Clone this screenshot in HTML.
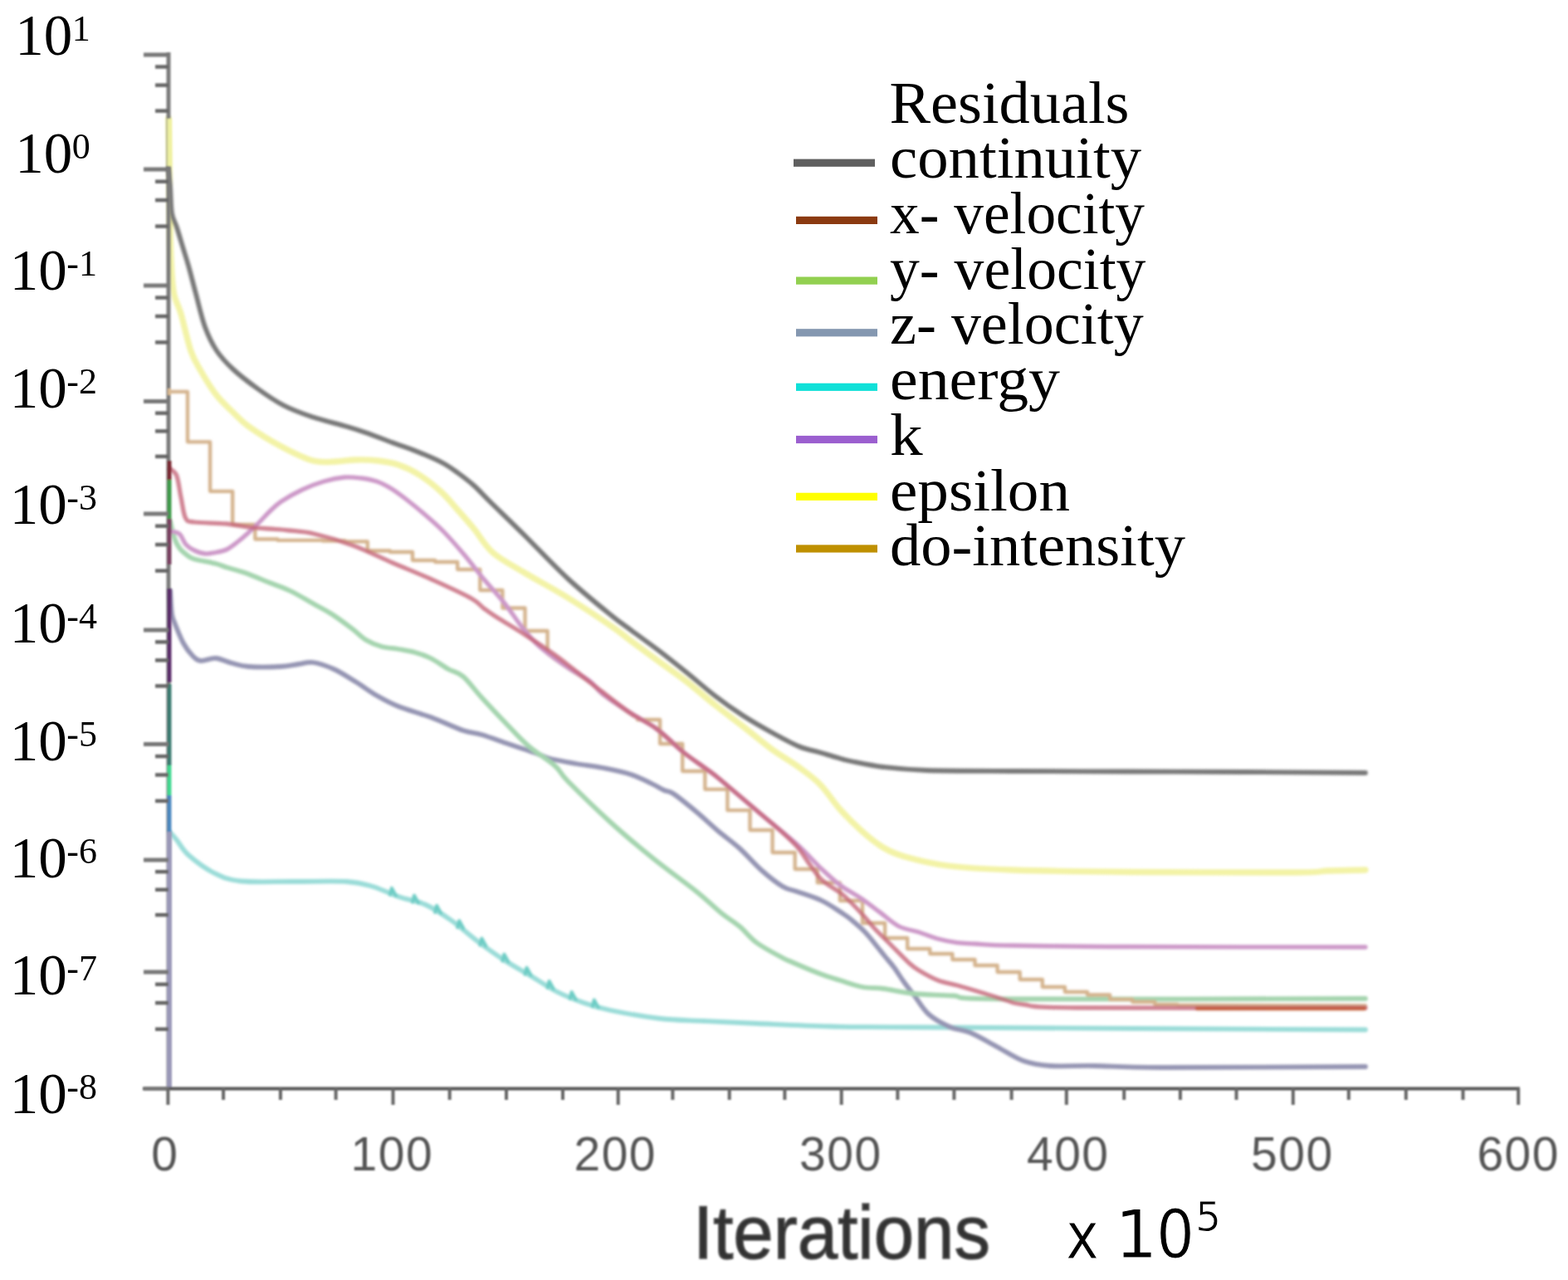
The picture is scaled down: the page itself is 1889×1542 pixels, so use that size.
<!DOCTYPE html>
<html><head><meta charset="utf-8"><title>Residuals</title>
<style>
html,body{margin:0;padding:0;background:#fff;overflow:hidden;}
svg{display:block;}
.ser{font-family:"Liberation Serif","DejaVu Serif",serif;fill:#000;}
.san{font-family:"Liberation Sans","DejaVu Sans",sans-serif;}
.dv{font-family:"DejaVu Sans","Liberation Sans",sans-serif;}
</style></head><body>
<svg width="1889" height="1542" viewBox="0 0 1889 1542">
<defs><filter id="bl" x="-5%" y="-5%" width="110%" height="110%"><feGaussianBlur stdDeviation="0.9"/></filter><filter id="bl3" x="-5%" y="-5%" width="110%" height="110%"><feGaussianBlur stdDeviation="1.4"/></filter><filter id="bl2" x="-5%" y="-5%" width="110%" height="110%"><feGaussianBlur stdDeviation="2.2"/></filter></defs>
<rect width="1889" height="1542" fill="#fff"/>
<g filter="url(#bl3)"><path d="M203.0,143.0 C203.2,152.5 203.7,177.2 204.0,200.0 C204.3,222.8 204.5,258.3 205.0,280.0 C205.5,301.7 206.2,317.3 207.0,330.0 C207.8,342.7 208.2,348.0 210.0,356.0 C211.8,364.0 214.7,366.8 218.0,378.0 C221.3,389.2 226.0,411.5 230.0,423.0 C234.0,434.5 237.0,438.3 242.0,447.0 C247.0,455.7 254.0,467.2 260.0,475.0 C266.0,482.8 271.3,487.5 278.0,494.0 C284.7,500.5 289.8,506.7 300.0,514.0 C310.2,521.3 326.2,531.2 339.0,538.0 C351.8,544.8 366.0,552.0 377.0,555.0 C388.0,558.0 396.5,556.2 405.0,556.0 C413.5,555.8 419.7,554.2 428.0,554.0 C436.3,553.8 446.3,554.0 455.0,555.0 C463.7,556.0 471.7,557.2 480.0,560.0 C488.3,562.8 496.3,566.5 505.0,572.0 C513.7,577.5 524.2,585.8 532.0,593.0 C539.8,600.2 545.5,607.7 552.0,615.0 C558.5,622.3 564.0,628.5 571.0,637.0 C578.0,645.5 583.8,657.2 594.0,666.0 C604.2,674.8 617.0,681.0 632.0,690.0 C647.0,699.0 666.7,709.3 684.0,720.0 C701.3,730.7 723.3,745.3 736.0,754.0 C748.7,762.7 750.3,764.8 760.0,772.0 C769.7,779.2 782.8,788.8 794.0,797.0 C805.2,805.2 815.8,812.3 827.0,821.0 C838.2,829.7 849.7,840.0 861.0,849.0 C872.3,858.0 883.7,866.2 895.0,875.0 C906.3,883.8 917.8,893.8 929.0,902.0 C940.2,910.2 952.2,916.8 962.0,924.0 C971.8,931.2 979.7,936.5 988.0,945.0 C996.3,953.5 1003.7,965.7 1012.0,975.0 C1020.3,984.3 1029.3,993.3 1038.0,1001.0 C1046.7,1008.7 1055.3,1015.8 1064.0,1021.0 C1072.7,1026.2 1077.0,1028.3 1090.0,1032.0 C1103.0,1035.7 1120.5,1040.3 1142.0,1043.0 C1163.5,1045.7 1182.7,1046.8 1219.0,1048.0 C1255.3,1049.2 1303.2,1050.0 1360.0,1050.5 C1416.8,1051.0 1520.0,1051.2 1560.0,1051.0 C1600.0,1050.8 1585.8,1049.5 1600.0,1049.0 C1614.2,1048.5 1637.5,1048.2 1645.0,1048.0" fill="none" stroke="#f3f3a6" stroke-width="7.3" stroke-linejoin="round" stroke-linecap="round" />
<path d="M205.0,1003.0 C206.3,1004.5 209.3,1007.5 213.0,1012.0 C216.7,1016.5 219.4,1023.3 227.0,1030.0 C234.6,1036.7 248.0,1046.8 258.5,1052.0 C269.0,1057.2 274.1,1059.8 290.0,1061.5 C305.9,1063.2 332.8,1061.9 354.0,1062.0 C375.2,1062.1 401.2,1061.0 417.0,1062.0 C432.8,1063.0 438.3,1064.9 449.0,1068.0 C459.7,1071.1 470.3,1076.8 481.0,1080.5 C491.7,1084.2 502.5,1085.2 513.0,1090.0 C523.5,1094.8 533.5,1101.6 544.0,1109.0 C554.5,1116.4 565.3,1126.5 576.0,1134.5 C586.7,1142.5 597.3,1150.1 608.0,1157.0 C618.7,1163.9 629.4,1169.7 640.0,1176.0 C650.6,1182.3 661.0,1189.7 671.5,1195.0 C682.0,1200.3 692.4,1204.3 703.0,1208.0 C713.6,1211.7 719.7,1213.8 735.0,1217.0 C750.3,1220.2 776.2,1224.8 795.0,1227.0 C813.8,1229.2 828.5,1229.0 848.0,1230.0 C867.5,1231.0 886.7,1231.9 912.0,1233.0 C937.3,1234.1 968.7,1235.8 1000.0,1236.5 C1031.3,1237.2 992.5,1236.8 1100.0,1237.5 C1207.5,1238.2 1554.2,1240.0 1645.0,1240.5" fill="none" stroke="#9adcd8" stroke-width="5.8" stroke-linejoin="round" stroke-linecap="round" />
<path d="M469.9,1077.9 L471.9,1069.9 L476.9,1078.9 M497.0,1086.8 L499.0,1078.8 L504.0,1087.8 M524.1,1099.0 L526.1,1091.0 L531.1,1100.0 M551.2,1117.3 L553.2,1109.3 L558.2,1118.3 M578.3,1138.5 L580.3,1130.5 L585.3,1139.5 M605.4,1157.6 L607.4,1149.6 L612.4,1158.6 M632.5,1173.7 L634.5,1165.7 L639.5,1174.7 M659.6,1190.0 L661.6,1182.0 L666.6,1191.0 M686.7,1203.1 L688.7,1195.1 L693.7,1204.1 M713.8,1212.6 L715.8,1204.6 L720.8,1213.6" fill="none" stroke="#6cccc4" stroke-width="4" stroke-linejoin="round" stroke-linecap="round" />
<path d="M205.0,712.0 C205.3,716.7 206.0,733.3 207.0,740.0 C208.0,746.7 208.7,746.2 211.0,752.0 C213.3,757.8 217.5,768.7 221.0,775.0 C224.5,781.3 228.5,786.5 232.0,790.0 C235.5,793.5 237.3,795.5 242.0,796.0 C246.7,796.5 253.7,792.5 260.0,793.0 C266.3,793.5 273.5,797.3 280.0,799.0 C286.5,800.7 289.3,802.3 299.0,803.0 C308.7,803.7 327.8,803.5 338.0,803.0 C348.2,802.5 353.5,800.8 360.0,800.0 C366.5,799.2 370.0,797.0 377.0,798.0 C384.0,799.0 393.5,802.2 402.0,806.0 C410.5,809.8 419.3,815.7 428.0,821.0 C436.7,826.3 445.3,833.0 454.0,838.0 C462.7,843.0 469.2,846.7 480.0,851.0 C490.8,855.3 506.0,859.2 519.0,864.0 C532.0,868.8 547.8,876.5 558.0,880.0 C568.2,883.5 571.0,882.3 580.0,885.0 C589.0,887.7 601.2,892.3 612.0,896.0 C622.8,899.7 636.8,904.1 645.0,907.0 C653.2,909.9 652.8,911.3 661.0,913.5 C669.2,915.7 683.2,918.1 694.0,920.0 C704.8,921.9 715.0,922.8 726.0,925.0 C737.0,927.2 750.2,929.8 760.0,933.0 C769.8,936.2 778.3,940.8 785.0,944.0 C791.7,947.2 795.7,950.0 800.0,952.0 C804.3,954.0 804.5,951.7 811.0,956.0 C817.5,960.3 830.0,970.5 839.0,978.0 C848.0,985.5 856.3,993.7 865.0,1001.0 C873.7,1008.3 882.3,1014.2 891.0,1022.0 C899.7,1029.8 908.3,1040.3 917.0,1048.0 C925.7,1055.7 935.8,1063.7 943.0,1068.0 C950.2,1072.3 952.2,1071.2 960.0,1074.0 C967.8,1076.8 981.2,1080.8 990.0,1085.0 C998.8,1089.2 1007.2,1095.2 1013.0,1099.0 C1018.8,1102.8 1020.2,1103.5 1025.0,1107.5 C1029.8,1111.5 1037.2,1117.8 1042.0,1122.7 C1046.8,1127.6 1050.0,1132.1 1054.0,1137.0 C1058.0,1141.9 1062.1,1147.2 1066.0,1152.0 C1069.9,1156.8 1073.7,1160.8 1077.5,1166.0 C1081.3,1171.2 1084.9,1177.3 1089.0,1183.0 C1093.1,1188.7 1097.0,1193.5 1102.0,1200.0 C1107.0,1206.5 1112.0,1215.8 1119.0,1222.0 C1126.0,1228.2 1135.7,1233.3 1144.0,1237.0 C1152.3,1240.7 1159.5,1240.0 1169.0,1244.0 C1178.5,1248.0 1190.3,1255.3 1201.0,1261.0 C1211.7,1266.7 1222.3,1274.2 1233.0,1278.0 C1243.7,1281.8 1250.8,1283.0 1265.0,1284.0 C1279.2,1285.0 1295.5,1283.7 1318.0,1284.0 C1340.5,1284.3 1345.5,1285.8 1400.0,1286.0 C1454.5,1286.2 1604.2,1285.2 1645.0,1285.0" fill="none" stroke="#9494b2" stroke-width="5.8" stroke-linejoin="round" stroke-linecap="round" />
<path d="M205.0,628.0 C205.8,631.3 208.2,642.7 210.0,648.0 C211.8,653.3 213.5,656.6 216.0,660.0 C218.5,663.4 222.0,666.2 225.0,668.5 C228.0,670.8 228.2,671.8 234.0,673.5 C239.8,675.2 253.5,677.3 260.0,679.0 C266.5,680.7 267.2,681.7 273.0,683.5 C278.8,685.3 286.3,686.9 295.0,690.0 C303.7,693.1 315.8,698.3 325.0,702.0 C334.2,705.7 341.3,707.8 350.0,712.0 C358.7,716.2 368.7,722.3 377.0,727.0 C385.3,731.7 392.0,734.8 400.0,740.0 C408.0,745.2 418.2,752.8 425.0,758.0 C431.8,763.2 435.2,767.5 441.0,771.0 C446.8,774.5 453.5,777.2 460.0,779.0 C466.5,780.8 473.3,780.8 480.0,782.0 C486.7,783.2 493.5,784.2 500.0,786.0 C506.5,787.8 512.3,789.7 519.0,793.0 C525.7,796.3 533.5,802.3 540.0,806.0 C546.5,809.7 551.3,809.3 558.0,815.0 C564.7,820.7 571.0,830.2 580.0,840.0 C589.0,849.8 602.5,864.2 612.0,874.0 C621.5,883.8 627.5,890.8 637.0,899.0 C646.5,907.2 661.2,916.0 669.0,923.0 C676.8,930.0 672.8,929.7 684.0,941.0 C695.2,952.3 718.7,975.3 736.0,991.0 C753.3,1006.7 770.8,1021.2 788.0,1035.0 C805.2,1048.8 825.5,1063.2 839.0,1074.0 C852.5,1084.8 860.3,1093.0 869.0,1100.0 C877.7,1107.0 883.8,1110.0 891.0,1116.0 C898.2,1122.0 903.3,1129.7 912.0,1136.0 C920.7,1142.3 936.0,1150.2 943.0,1154.0 C950.0,1157.8 947.8,1156.3 954.0,1159.0 C960.2,1161.7 973.0,1167.2 980.0,1170.0 C987.0,1172.8 990.7,1174.2 996.0,1176.0 C1001.3,1177.8 1004.8,1178.8 1012.0,1181.0 C1019.2,1183.2 1030.3,1187.3 1039.0,1189.0 C1047.7,1190.7 1053.8,1189.7 1064.0,1191.0 C1074.2,1192.3 1086.0,1195.6 1100.0,1197.0 C1114.0,1198.4 1129.3,1198.4 1148.0,1199.5 C1166.7,1200.6 1129.2,1202.9 1212.0,1203.5 C1294.8,1204.1 1572.8,1203.1 1645.0,1203.0" fill="none" stroke="#a4d4ae" stroke-width="5.8" stroke-linejoin="round" stroke-linecap="round" />
<path d="M205.0,471.9 L205.0,471.9 L226.0,471.9 L226.0,532.3 L253.1,532.3 L253.1,591.8 L280.2,591.8 L280.2,632.0 L307.3,632.0 L307.3,649.5 L334.4,649.5 L334.4,650.8 L361.5,650.8 L361.5,650.8 L388.6,650.8 L388.6,651.5 L415.7,651.5 L415.7,652.4 L442.8,652.4 L442.8,663.5 L469.9,663.5 L469.9,665.0 L497.0,665.0 L497.0,675.0 L524.1,675.0 L524.1,677.0 L551.2,677.0 L551.2,686.0 L578.3,686.0 L578.3,711.0 L605.4,711.0 L605.4,732.5 L632.5,732.5 L632.5,760.0 L659.6,760.0 L659.6,787.2 L663.6,790.3 L667.6,793.4 L671.6,796.2 L675.6,799.0 L679.6,801.8 L683.6,804.6 L686.7,806.8 L686.7,806.8 L690.7,809.3 L694.7,811.8 L698.7,814.3 L702.7,816.8 L706.7,819.3 L710.7,821.8 L713.8,824.8 L713.8,824.8 L717.8,828.8 L721.8,832.8 L725.8,836.8 L729.8,839.6 L733.8,842.4 L737.8,845.1 L740.9,847.2 L740.9,847.2 L744.9,850.0 L748.9,852.7 L752.9,855.5 L756.9,858.2 L760.9,860.8 L764.9,863.2 L768.0,865.1 L768.0,867.0 L795.1,867.0 L795.1,896.0 L822.2,896.0 L822.2,929.0 L849.3,929.0 L849.3,950.8 L876.4,950.8 L876.4,976.2 L903.5,976.2 L903.5,1000.0 L930.6,1000.0 L930.6,1027.0 L957.7,1027.0 L957.7,1047.0 L984.8,1047.0 L984.8,1063.4 L1011.9,1063.4 L1011.9,1085.0 L1039.0,1085.0 L1039.0,1112.0 L1066.1,1112.0 L1066.1,1130.0 L1093.2,1130.0 L1093.2,1143.0 L1120.3,1143.0 L1120.3,1149.0 L1147.4,1149.0 L1147.4,1156.0 L1174.5,1156.0 L1174.5,1163.0 L1201.6,1163.0 L1201.6,1171.0 L1228.7,1171.0 L1228.7,1180.0 L1255.8,1180.0 L1255.8,1189.0 L1282.9,1189.0 L1282.9,1195.0 L1310.0,1195.0 L1310.0,1198.5 L1337.1,1198.5 L1337.1,1204.0 L1364.2,1204.0 L1364.2,1207.0 L1391.3,1207.0 L1391.3,1210.0 L1418.4,1210.0 L1418.4,1211.0 L1445.5,1211.0 L1645.0,1211.5" fill="none" stroke="#d4b28c" stroke-width="4.3" stroke-linejoin="round" stroke-linecap="round" stroke-linecap="butt"/>
<path d="M205.0,640.0 C206.8,640.5 212.8,640.3 216.0,643.0 C219.2,645.7 221.0,652.7 224.0,656.0 C227.0,659.3 230.2,661.2 234.0,663.0 C237.8,664.8 242.7,666.6 247.0,667.0 C251.3,667.4 255.7,666.3 260.0,665.5 C264.3,664.7 268.7,664.1 273.0,662.0 C277.3,659.9 281.7,656.3 286.0,653.0 C290.3,649.7 294.6,646.0 299.0,642.0 C303.4,638.0 308.2,633.3 312.5,629.0 C316.8,624.7 320.6,620.2 325.0,616.0 C329.4,611.8 332.5,608.3 339.0,604.0 C345.5,599.7 355.5,594.0 364.0,590.0 C372.5,586.0 381.5,582.5 390.0,580.0 C398.5,577.5 407.5,575.7 415.0,575.0 C422.5,574.3 428.5,575.2 435.0,576.0 C441.5,576.8 447.8,577.8 454.0,580.0 C460.2,582.2 466.0,585.3 472.0,589.0 C478.0,592.7 483.3,596.8 490.0,602.0 C496.7,607.2 504.7,613.7 512.0,620.0 C519.3,626.3 526.2,632.0 534.0,640.0 C541.8,648.0 550.7,658.2 559.0,668.0 C567.3,677.8 575.8,689.2 584.0,699.0 C592.2,708.8 600.3,717.3 608.0,727.0 C615.7,736.7 623.3,748.7 630.0,757.0 C636.7,765.3 641.8,771.2 648.0,777.0 C654.2,782.8 660.5,787.2 667.0,792.0 C673.5,796.8 679.7,801.2 687.0,806.0 C694.3,810.8 704.5,816.0 711.0,821.0 C717.5,826.0 718.2,829.8 726.0,836.0 C733.8,842.2 747.2,851.0 758.0,858.0 C768.8,865.0 780.2,870.0 791.0,878.0 C801.8,886.0 813.3,898.2 823.0,906.0 C832.7,913.8 842.0,919.8 849.0,925.0 C856.0,930.2 853.7,927.7 865.0,937.0 C876.3,946.3 901.2,967.7 917.0,981.0 C932.8,994.3 947.8,1006.0 960.0,1017.0 C972.2,1028.0 981.2,1038.7 990.0,1047.0 C998.8,1055.3 1005.2,1061.2 1013.0,1067.0 C1020.8,1072.8 1029.2,1076.7 1037.0,1082.0 C1044.8,1087.3 1052.3,1093.3 1060.0,1099.0 C1067.7,1104.7 1075.2,1112.0 1083.0,1116.0 C1090.8,1120.0 1099.2,1120.5 1107.0,1123.0 C1114.8,1125.5 1122.3,1128.9 1130.0,1131.0 C1137.7,1133.1 1145.5,1134.6 1153.0,1135.6 C1160.5,1136.6 1164.0,1136.4 1175.0,1137.0 C1186.0,1137.6 1188.2,1138.4 1219.0,1139.0 C1249.8,1139.6 1289.0,1140.2 1360.0,1140.5 C1431.0,1140.8 1597.5,1140.9 1645.0,1141.0" fill="none" stroke="#cc98c8" stroke-width="5.3" stroke-linejoin="round" stroke-linecap="round" />
<path d="M205.0,565.0 C206.3,566.3 210.6,567.3 212.8,573.0 C215.0,578.7 216.2,590.5 218.0,599.0 C219.8,607.5 220.8,619.0 223.5,624.0 C226.2,629.0 225.8,627.8 234.0,629.0 C242.2,630.2 261.3,629.9 273.0,631.0 C284.7,632.1 294.5,634.6 304.0,635.6 C313.5,636.6 322.7,636.7 330.0,637.3 C337.3,637.9 340.0,638.0 348.0,639.0 C356.0,640.0 365.2,640.0 378.0,643.0 C390.8,646.0 409.2,651.2 425.0,657.0 C440.8,662.8 457.0,671.1 473.0,678.0 C489.0,684.9 505.2,691.3 521.0,698.5 C536.8,705.7 557.7,715.2 568.0,721.0 C578.3,726.8 578.3,729.5 583.0,733.0 C587.7,736.5 588.2,737.0 596.0,742.0 C603.8,747.0 618.2,755.3 630.0,763.0 C641.8,770.7 656.7,780.7 667.0,788.0 C677.3,795.3 683.8,800.7 692.0,807.0 C700.2,813.3 705.0,817.5 716.0,826.0 C727.0,834.5 745.5,849.3 758.0,858.0 C770.5,866.7 780.2,870.0 791.0,878.0 C801.8,886.0 813.3,898.2 823.0,906.0 C832.7,913.8 842.0,919.8 849.0,925.0 C856.0,930.2 853.7,927.7 865.0,937.0 C876.3,946.3 903.7,969.7 917.0,981.0 C930.3,992.3 937.5,998.2 945.0,1005.0 C952.5,1011.8 956.8,1015.8 962.0,1022.0 C967.2,1028.2 971.3,1035.7 976.0,1042.0 C980.7,1048.3 983.8,1054.3 990.0,1060.0 C996.2,1065.7 1007.2,1071.5 1013.0,1076.0 C1018.8,1080.5 1020.2,1082.2 1025.0,1087.0 C1029.8,1091.8 1037.2,1099.7 1042.0,1105.0 C1046.8,1110.3 1049.0,1113.7 1054.0,1119.0 C1059.0,1124.3 1065.2,1130.2 1072.0,1137.0 C1078.8,1143.8 1089.2,1154.7 1095.0,1160.0 C1100.8,1165.3 1101.2,1165.5 1107.0,1169.0 C1112.8,1172.5 1122.3,1178.0 1130.0,1181.0 C1137.7,1184.0 1144.7,1184.7 1153.0,1187.0 C1161.3,1189.3 1170.2,1192.0 1180.0,1195.0 C1189.8,1198.0 1203.2,1202.5 1212.0,1205.0 C1220.8,1207.5 1219.0,1208.5 1233.0,1210.0 C1247.0,1211.5 1227.3,1213.3 1296.0,1214.0 C1364.7,1214.7 1586.8,1214.0 1645.0,1214.0" fill="none" stroke="#c46478" stroke-width="5.3" stroke-linejoin="round" stroke-linecap="round" opacity="0.8"/>
<path d="M1442,1215 L1644,1215" fill="none" stroke="#c2552e" stroke-width="4.5" stroke-linejoin="round" stroke-linecap="round" opacity="0.85"/>
<path d="M203.0,203.0 C203.3,206.7 204.3,216.0 205.0,225.0 C205.7,234.0 205.7,248.8 207.0,257.0 C208.3,265.2 210.8,267.3 213.0,274.0 C215.2,280.7 217.7,289.3 220.0,297.0 C222.3,304.7 224.3,310.5 227.0,320.0 C229.7,329.5 232.7,341.7 236.0,354.0 C239.3,366.3 242.8,382.6 247.0,394.0 C251.2,405.4 255.3,414.0 261.0,422.5 C266.7,431.0 272.8,437.4 281.0,445.0 C289.2,452.6 300.0,460.8 310.0,468.0 C320.0,475.2 330.1,482.3 341.0,488.0 C351.9,493.7 362.7,497.7 375.5,502.0 C388.3,506.3 407.2,510.8 418.0,514.0 C428.8,517.2 430.5,517.7 440.0,521.0 C449.5,524.3 465.0,530.3 475.0,534.0 C485.0,537.7 490.5,539.2 500.0,543.0 C509.5,546.8 523.3,552.5 532.0,557.0 C540.7,561.5 545.5,565.3 552.0,570.0 C558.5,574.7 564.3,579.0 571.0,585.0 C577.7,591.0 581.8,596.0 592.0,606.0 C602.2,616.0 616.7,629.8 632.0,645.0 C647.3,660.2 666.7,681.0 684.0,697.0 C701.3,713.0 723.3,730.7 736.0,741.0 C748.7,751.3 750.3,751.8 760.0,759.0 C769.7,766.2 782.8,775.5 794.0,784.0 C805.2,792.5 815.8,801.0 827.0,810.0 C838.2,819.0 849.7,829.3 861.0,838.0 C872.3,846.7 883.7,854.7 895.0,862.0 C906.3,869.3 917.8,875.8 929.0,882.0 C940.2,888.2 952.5,895.0 962.0,899.0 C971.5,903.0 978.0,903.7 986.0,906.0 C994.0,908.3 1003.5,911.2 1010.0,913.0 C1016.5,914.8 1016.0,915.2 1025.0,917.0 C1034.0,918.8 1048.8,922.2 1064.0,924.0 C1079.2,925.8 1090.2,927.2 1116.0,928.0 C1141.8,928.8 1178.3,928.8 1219.0,929.0 C1259.7,929.2 1313.2,929.3 1360.0,929.5 C1406.8,929.7 1452.5,929.8 1500.0,930.0 C1547.5,930.2 1620.8,930.8 1645.0,931.0" fill="none" stroke="#787878" stroke-width="5.8" stroke-linejoin="round" stroke-linecap="round" /></g>
<g filter="url(#bl)"><line x1="203" y1="63" x2="203" y2="1313" stroke="#7a7a7a" stroke-width="5"/>
<line x1="204" y1="143" x2="204" y2="200" stroke="#eef0a0" stroke-width="5"/>
<line x1="204" y1="468" x2="204" y2="476" stroke="#d8b890" stroke-width="4"/>
<line x1="204" y1="555" x2="204" y2="578" stroke="#7a2830" stroke-width="5"/>
<line x1="204" y1="578" x2="204" y2="625" stroke="#3c9a48" stroke-width="5"/>
<line x1="204" y1="625" x2="204" y2="680" stroke="#7a4060" stroke-width="5"/>
<line x1="204" y1="709" x2="204" y2="822" stroke="#5a2a6a" stroke-width="5"/>
<line x1="204" y1="824" x2="204" y2="922" stroke="#3a7a70" stroke-width="5"/>
<line x1="204" y1="922" x2="204" y2="958" stroke="#40d890" stroke-width="5"/>
<line x1="204" y1="958" x2="204" y2="1002" stroke="#4a88c0" stroke-width="5"/>
<line x1="204" y1="1002" x2="204" y2="1311" stroke="#9a98b8" stroke-width="6"/>
<line x1="172" y1="1311.5" x2="1831" y2="1311.5" stroke="#555" stroke-width="4"/>
<line x1="173" y1="66" x2="203" y2="66" stroke="#777" stroke-width="5"/>
<line x1="187" y1="80.5" x2="203" y2="80.5" stroke="#666" stroke-width="4.5"/>
<line x1="187" y1="102.6" x2="203" y2="102.6" stroke="#666" stroke-width="4.5"/>
<line x1="187" y1="133.6" x2="203" y2="133.6" stroke="#666" stroke-width="4.5"/>
<line x1="173" y1="204" x2="203" y2="204" stroke="#777" stroke-width="5"/>
<line x1="187" y1="218.7" x2="203" y2="218.7" stroke="#666" stroke-width="4.5"/>
<line x1="187" y1="241.1" x2="203" y2="241.1" stroke="#666" stroke-width="4.5"/>
<line x1="187" y1="272.6" x2="203" y2="272.6" stroke="#666" stroke-width="4.5"/>
<line x1="173" y1="344" x2="203" y2="344" stroke="#777" stroke-width="5"/>
<line x1="187" y1="358.6" x2="203" y2="358.6" stroke="#666" stroke-width="4.5"/>
<line x1="187" y1="381.0" x2="203" y2="381.0" stroke="#666" stroke-width="4.5"/>
<line x1="187" y1="412.4" x2="203" y2="412.4" stroke="#666" stroke-width="4.5"/>
<line x1="173" y1="483.5" x2="203" y2="483.5" stroke="#777" stroke-width="5"/>
<line x1="187" y1="497.7" x2="203" y2="497.7" stroke="#666" stroke-width="4.5"/>
<line x1="187" y1="519.4" x2="203" y2="519.4" stroke="#666" stroke-width="4.5"/>
<line x1="187" y1="549.9" x2="203" y2="549.9" stroke="#666" stroke-width="4.5"/>
<line x1="173" y1="619" x2="203" y2="619" stroke="#777" stroke-width="5"/>
<line x1="187" y1="633.7" x2="203" y2="633.7" stroke="#666" stroke-width="4.5"/>
<line x1="187" y1="656.1" x2="203" y2="656.1" stroke="#666" stroke-width="4.5"/>
<line x1="187" y1="687.6" x2="203" y2="687.6" stroke="#666" stroke-width="4.5"/>
<line x1="173" y1="759" x2="203" y2="759" stroke="#777" stroke-width="5"/>
<line x1="187" y1="773.4" x2="203" y2="773.4" stroke="#666" stroke-width="4.5"/>
<line x1="187" y1="795.4" x2="203" y2="795.4" stroke="#666" stroke-width="4.5"/>
<line x1="187" y1="826.4" x2="203" y2="826.4" stroke="#666" stroke-width="4.5"/>
<line x1="173" y1="896.5" x2="203" y2="896.5" stroke="#777" stroke-width="5"/>
<line x1="187" y1="911.1" x2="203" y2="911.1" stroke="#666" stroke-width="4.5"/>
<line x1="187" y1="933.5" x2="203" y2="933.5" stroke="#666" stroke-width="4.5"/>
<line x1="187" y1="964.9" x2="203" y2="964.9" stroke="#666" stroke-width="4.5"/>
<line x1="173" y1="1036" x2="203" y2="1036" stroke="#777" stroke-width="5"/>
<line x1="187" y1="1050.2" x2="203" y2="1050.2" stroke="#666" stroke-width="4.5"/>
<line x1="187" y1="1071.8" x2="203" y2="1071.8" stroke="#666" stroke-width="4.5"/>
<line x1="187" y1="1102.2" x2="203" y2="1102.2" stroke="#666" stroke-width="4.5"/>
<line x1="173" y1="1171" x2="203" y2="1171" stroke="#777" stroke-width="5"/>
<line x1="187" y1="1185.8" x2="203" y2="1185.8" stroke="#666" stroke-width="4.5"/>
<line x1="187" y1="1208.2" x2="203" y2="1208.2" stroke="#666" stroke-width="4.5"/>
<line x1="187" y1="1239.8" x2="203" y2="1239.8" stroke="#666" stroke-width="4.5"/>
<line x1="173" y1="1311.5" x2="203" y2="1311.5" stroke="#777" stroke-width="5"/>
<line x1="202.4" y1="1311" x2="202.4" y2="1331" stroke="#666" stroke-width="4"/>
<line x1="269.1" y1="1311" x2="269.1" y2="1325" stroke="#666" stroke-width="4"/>
<line x1="337.9" y1="1311" x2="337.9" y2="1325" stroke="#666" stroke-width="4"/>
<line x1="404.6" y1="1311" x2="404.6" y2="1325" stroke="#666" stroke-width="4"/>
<line x1="473.5" y1="1311" x2="473.5" y2="1331" stroke="#666" stroke-width="4"/>
<line x1="541.7" y1="1311" x2="541.7" y2="1325" stroke="#666" stroke-width="4"/>
<line x1="610" y1="1311" x2="610" y2="1325" stroke="#666" stroke-width="4"/>
<line x1="678" y1="1311" x2="678" y2="1325" stroke="#666" stroke-width="4"/>
<line x1="744.7" y1="1311" x2="744.7" y2="1331" stroke="#666" stroke-width="4"/>
<line x1="810.4" y1="1311" x2="810.4" y2="1325" stroke="#666" stroke-width="4"/>
<line x1="878.7" y1="1311" x2="878.7" y2="1325" stroke="#666" stroke-width="4"/>
<line x1="945.4" y1="1311" x2="945.4" y2="1325" stroke="#666" stroke-width="4"/>
<line x1="1013.7" y1="1311" x2="1013.7" y2="1331" stroke="#666" stroke-width="4"/>
<line x1="1081.4" y1="1311" x2="1081.4" y2="1325" stroke="#666" stroke-width="4"/>
<line x1="1149.4" y1="1311" x2="1149.4" y2="1325" stroke="#666" stroke-width="4"/>
<line x1="1218.6" y1="1311" x2="1218.6" y2="1325" stroke="#666" stroke-width="4"/>
<line x1="1284.8" y1="1311" x2="1284.8" y2="1331" stroke="#666" stroke-width="4"/>
<line x1="1354.2" y1="1311" x2="1354.2" y2="1325" stroke="#666" stroke-width="4"/>
<line x1="1421.9" y1="1311" x2="1421.9" y2="1325" stroke="#666" stroke-width="4"/>
<line x1="1489.5" y1="1311" x2="1489.5" y2="1325" stroke="#666" stroke-width="4"/>
<line x1="1557.8" y1="1311" x2="1557.8" y2="1331" stroke="#666" stroke-width="4"/>
<line x1="1624.8" y1="1311" x2="1624.8" y2="1325" stroke="#666" stroke-width="4"/>
<line x1="1693.8" y1="1311" x2="1693.8" y2="1325" stroke="#666" stroke-width="4"/>
<line x1="1762.5" y1="1311" x2="1762.5" y2="1325" stroke="#666" stroke-width="4"/>
<line x1="1829.2" y1="1311" x2="1829.2" y2="1331" stroke="#666" stroke-width="4"/></g>
<g filter="url(#bl)"><text class="san" x="198.2" y="1410" font-size="57" fill="#555" text-anchor="middle">0</text>
<text class="san" x="471.6" y="1410" font-size="57" fill="#555" text-anchor="middle" textLength="98" lengthAdjust="spacing">100</text>
<text class="san" x="740.5" y="1410" font-size="57" fill="#555" text-anchor="middle" textLength="98" lengthAdjust="spacing">200</text>
<text class="san" x="1012.1" y="1410" font-size="57" fill="#555" text-anchor="middle" textLength="98" lengthAdjust="spacing">300</text>
<text class="san" x="1286" y="1410" font-size="57" fill="#555" text-anchor="middle" textLength="98" lengthAdjust="spacing">400</text>
<text class="san" x="1556.1" y="1410" font-size="57" fill="#555" text-anchor="middle" textLength="98" lengthAdjust="spacing">500</text>
<text class="san" x="1828.4" y="1410" font-size="57" fill="#555" text-anchor="middle" textLength="98" lengthAdjust="spacing">600</text></g>
<g filter="url(#bl)"><text class="san" x="835" y="1515.5" font-size="91" fill="#333" stroke="#555" stroke-width="1.6" textLength="358" lengthAdjust="spacingAndGlyphs">Iterations</text></g>
<g stroke="#fff" stroke-width="1.0" fill="#000"><text class="dv" x="1284" y="1515.5" font-size="78" textLength="40" lengthAdjust="spacingAndGlyphs">x</text><text class="dv" x="1343" y="1515" font-size="81">1</text><text class="dv" x="1393" y="1515" font-size="81" textLength="46" lengthAdjust="spacingAndGlyphs">0</text><text class="dv" x="1440" y="1483" font-size="49">5</text></g>
<text class="ser" x="18.2" y="66" font-size="69">10<tspan font-size="44" dx="-0.5" dy="-17">1</tspan></text>
<text class="ser" x="18.2" y="207.5" font-size="69">10<tspan font-size="44" dx="-0.5" dy="-17">0</tspan></text>
<text class="ser" x="11.8" y="349" font-size="69">10<tspan font-size="44" dx="-0.5" dy="-17">-1</tspan></text>
<text class="ser" x="11.8" y="491" font-size="69">10<tspan font-size="44" dx="-0.5" dy="-17">-2</tspan></text>
<text class="ser" x="11.8" y="631" font-size="69">10<tspan font-size="44" dx="-0.5" dy="-17">-3</tspan></text>
<text class="ser" x="11.8" y="773.6" font-size="69">10<tspan font-size="44" dx="-0.5" dy="-17">-4</tspan></text>
<text class="ser" x="11.8" y="915.5" font-size="69">10<tspan font-size="44" dx="-0.5" dy="-17">-5</tspan></text>
<text class="ser" x="11.8" y="1057" font-size="69">10<tspan font-size="44" dx="-0.5" dy="-17">-6</tspan></text>
<text class="ser" x="11.8" y="1198" font-size="69">10<tspan font-size="44" dx="-0.5" dy="-17">-7</tspan></text>
<text class="ser" x="11.8" y="1340.5" font-size="69">10<tspan font-size="44" dx="-0.5" dy="-17">-8</tspan></text>
<text class="ser" x="1071.5" y="147.7" font-size="71" textLength="289" lengthAdjust="spacingAndGlyphs">Residuals</text>
<rect x="956" y="191.6" width="98" height="9.2" fill="#5f5f5f"/>
<text class="ser" x="1072" y="214.4" font-size="71" textLength="303" lengthAdjust="spacingAndGlyphs">continuity</text>
<rect x="959" y="260.8" width="98" height="9.2" fill="#8b3a10"/>
<text class="ser" x="1072" y="280.5" font-size="71" textLength="307" lengthAdjust="spacingAndGlyphs">x- velocity</text>
<rect x="959" y="333.5" width="98" height="9.2" fill="#92d050"/>
<text class="ser" x="1072" y="348" font-size="71" textLength="308.4" lengthAdjust="spacingAndGlyphs">y- velocity</text>
<rect x="959" y="396.2" width="98" height="9.2" fill="#8497b0"/>
<text class="ser" x="1072" y="414" font-size="71" textLength="305.7" lengthAdjust="spacingAndGlyphs">z- velocity</text>
<rect x="959" y="461.7" width="98" height="9.2" fill="#10e0d8"/>
<text class="ser" x="1072" y="481.4" font-size="71" textLength="205" lengthAdjust="spacingAndGlyphs">energy</text>
<rect x="959" y="524.9" width="98" height="9.2" fill="#9b5fcf"/>
<text class="ser" x="1072" y="547.6" font-size="71" textLength="39.7" lengthAdjust="spacingAndGlyphs">k</text>
<rect x="959" y="593.7" width="98" height="9.2" fill="#ffff00"/>
<text class="ser" x="1072" y="615.3" font-size="71" textLength="217" lengthAdjust="spacingAndGlyphs">epsilon</text>
<rect x="959" y="656.4" width="98" height="9.2" fill="#bf9000"/>
<text class="ser" x="1072" y="680.7" font-size="71" textLength="356" lengthAdjust="spacingAndGlyphs">do-intensity</text>
</svg>
</body></html>
